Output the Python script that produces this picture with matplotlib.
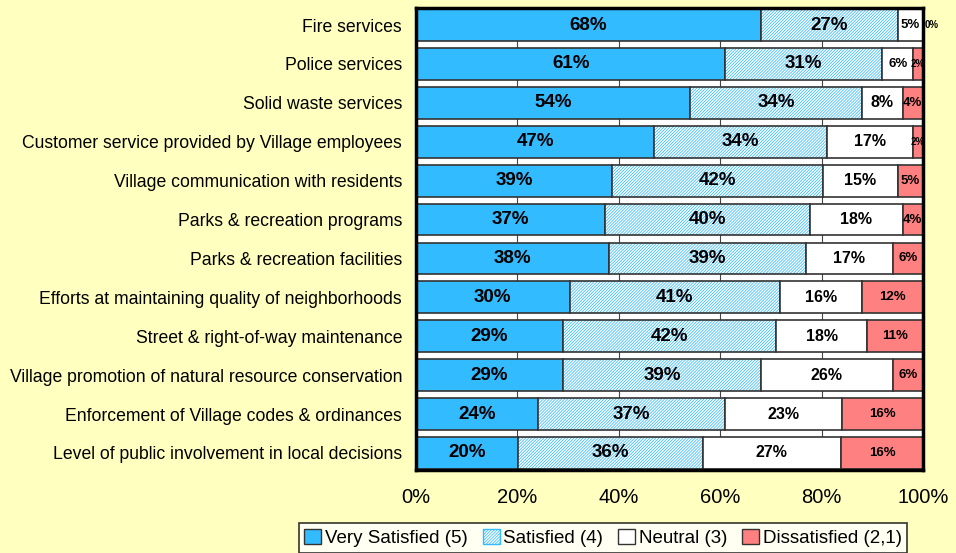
import matplotlib
matplotlib.use("Agg")
import matplotlib.pyplot as plt
import numpy as np
from matplotlib.patches import Patch

categories = [
    "Fire services",
    "Police services",
    "Solid waste services",
    "Customer service provided by Village employees",
    "Village communication with residents",
    "Parks & recreation programs",
    "Parks & recreation facilities",
    "Efforts at maintaining quality of neighborhoods",
    "Street & right-of-way maintenance",
    "Village promotion of natural resource conservation",
    "Enforcement of Village codes & ordinances",
    "Level of public involvement in local decisions",
]
very_satisfied = [68, 61, 54, 47, 39, 37, 38, 30, 29, 29, 24, 20]
satisfied = [27, 31, 34, 34, 42, 40, 39, 41, 42, 39, 37, 36]
neutral = [5, 6, 8, 17, 15, 18, 17, 16, 18, 26, 23, 27]
dissatisfied = [0, 2, 4, 2, 5, 4, 6, 12, 11, 6, 16, 16]
series_names = ["Very Satisfied (5)", "Satisfied (4)", "Neutral (3)", "Dissatisfied (2,1)"]
x_ticks = [0, 20, 40, 60, 80, 100]

plt.rcParams['font.family'] = ['Liberation Sans', 'DejaVu Sans']

bg = "#FFFFC0"
blue = "#33BBFF"
red = "#FF8080"
edge = "#333333"
hatch = "/" * 11

fig = plt.figure(figsize=(9.56, 5.53), dpi=100, facecolor=bg)
ax = fig.add_axes([416/956, 1-470/553, (923-416)/956, (470-8)/553])
ax.set_facecolor("white")

data = np.array([very_satisfied, satisfied, neutral, dissatisfied], dtype=float)
pct = data / data.sum(axis=0) * 100
y = np.arange(len(categories))
h = 0.82

left = np.zeros(len(categories))
styles = [
    dict(color=blue, hatch=None),
    dict(color="white", hatch=hatch),
    dict(color="white", hatch=None),
    dict(color=red, hatch=None),
]
sizes = [13.5, 13.5, 11.5, 9.5]
plt.rcParams['hatch.color'] = blue
plt.rcParams['hatch.linewidth'] = 0.55
for i, (vals, st) in enumerate(zip(pct, styles)):
    if st["hatch"]:
        ax.barh(y, vals, left=left, height=h, facecolor="white",
                edgecolor=blue, hatch=st["hatch"], linewidth=0)
        ax.barh(y, vals, left=left, height=h, facecolor="none",
                edgecolor=edge, linewidth=1.2)
    else:
        ax.barh(y, vals, left=left, height=h, facecolor=st["color"],
                edgecolor=edge, linewidth=1.2)
    for j, v in enumerate(vals):
        raw = data[i, j]
        fs = sizes[i]
        xpos = left[j] + v/2
        ha = "center"
        if v < 1:
            fs = 7
            xpos = left[j] + 0.3
            ha = "left"
        elif v < 3:
            fs = 7
        elif v < 7 and i == 2:
            fs = 9.5
        ax.text(xpos, y[j], f"{int(raw)}%", ha=ha, va="center",
                fontsize=fs, fontweight="bold", color="black", zorder=5,
                clip_on=False)
    left += vals

ax.set_xlim(0, 100)
ax.set_ylim(11.437, -0.437)
ax.set_xticks(x_ticks)
ax.set_xticklabels([f"{t}%" for t in x_ticks], fontsize=14.5)
ax.xaxis.grid(True, color="#444444", linewidth=0.8)
ax.set_axisbelow(True)
ax.tick_params(axis='x', length=0, pad=13)
ax.tick_params(axis='y', length=0, pad=10)
ax.set_yticks(y)
ax.set_yticklabels(categories, fontsize=12.7)
for s in ax.spines.values():
    s.set_linewidth(2.5)
    s.set_color("black")

handles = [
    Patch(facecolor=blue, edgecolor=edge),
    Patch(facecolor="white", edgecolor=blue, hatch=hatch),
    Patch(facecolor="white", edgecolor=edge),
    Patch(facecolor=red, edgecolor=edge),
]
leg = fig.legend(handles, series_names, loc="center", ncol=4,
                 bbox_to_anchor=(603/956, 1-538/553), frameon=True,
                 fancybox=False, edgecolor="black",
                 handlelength=0.9, handleheight=0.9, handletextpad=0.2,
                 columnspacing=0.8, borderpad=0.3, prop={'size': 13.5})
leg.get_frame().set_linewidth(1.2)

fig.savefig("out.png", dpi=100, facecolor=bg)
